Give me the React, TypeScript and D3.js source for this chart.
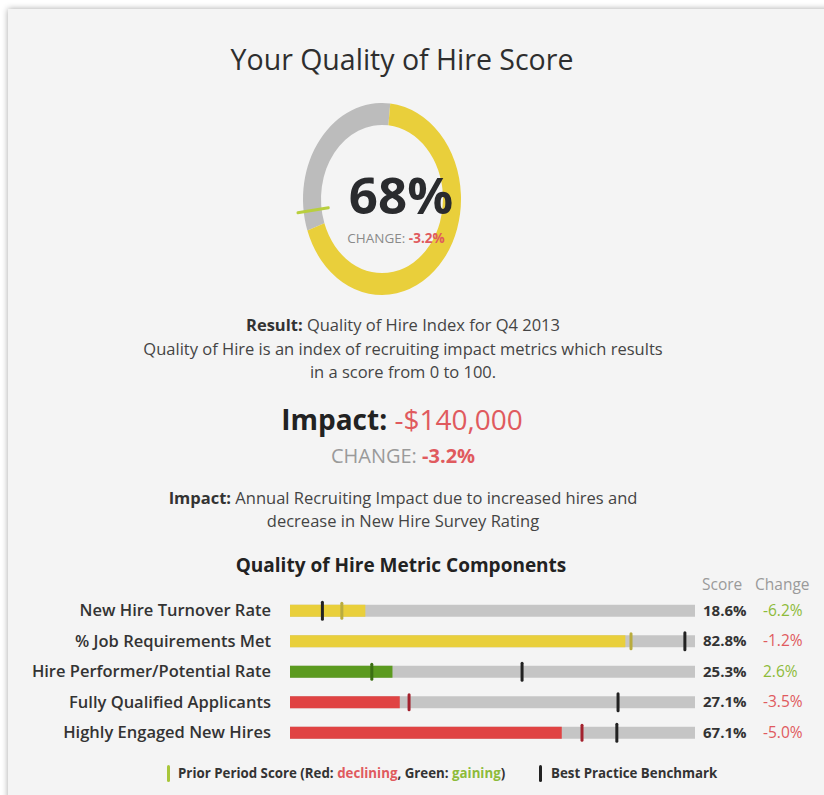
import React from "react";
import * as d3 from "d3";

const categories = [
  "New Hire Turnover Rate",
  "% Job Requirements Met",
  "Hire Performer/Potential Rate",
  "Fully Qualified Applicants",
  "Highly Engaged New Hires",
];
const scores = [18.6, 82.8, 25.3, 27.1, 67.1];
const changes = [-6.2, -1.2, 2.6, -3.5, -5.0];
const priorScores = [12.8, 84.2, 20.2, 29.4, 72.1];
const benchmarks = [8.0, 97.5, 57.3, 81.0, 80.7];
const barStatus = ["neutral", "neutral", "gaining", "declining", "declining"];
const changeStatus = ["gaining", "declining", "gaining", "declining", "declining"];

const overallScore = 68;
const overallPrior = 71.2;
const overallChange = -3.2;
const impactValue = "-$140,000";

const FONT = "'Open Sans', 'Noto Sans', sans-serif";
const YELLOW = "#e9cf3b";
const GREEN = "#5b9a1f";
const RED = "#e04343";
const TRACK = "#c5c5c5";
const RING_GRAY = "#bcbcbc";
const TEXT_RED = "#e05a5e";
const TEXT_GREEN = "#8dbb3a";

const fillColor: Record<string, string> = { neutral: YELLOW, gaining: GREEN, declining: RED };
const priorColor: Record<string, string> = { neutral: "#b9ac3e", gaining: "#3b6f12", declining: "#a3222e" };

export default function App() {
  const W = 824, H = 795;
  const x = d3.scaleLinear().domain([0, 100]).range([290, 695]);
  const y = d3.scaleBand().domain(categories).range([595.5, 748]).padding(0);
  const barH = 12;

  const startDeg = 6;
  const angle = d3.scaleLinear().domain([0, 100]).range([startDeg * Math.PI / 180, (startDeg + 360) * Math.PI / 180]);
  const arc = d3.arc<any>().innerRadius(61).outerRadius(79);
  const yellowArc = arc({ startAngle: angle(0), endAngle: angle(overallScore) } as any) as string;
  const grayArc = arc({ startAngle: angle(overallScore), endAngle: angle(100) } as any) as string;
  const pa = angle(overallPrior);
  const cx = 382, cy = 199, sy = 1.215;

  const fmt = (v: number) => v.toFixed(1) + "%";

  return (
    <svg width={W} height={H} style={{ position: "absolute", left: 0, top: 0, fontFamily: FONT }}>
      <defs>
        <filter id="shadow" x="-5%" y="-5%" width="110%" height="110%">
          <feDropShadow dx="0" dy="0" stdDeviation="3" floodColor="#000" floodOpacity="0.35" />
        </filter>
      </defs>
      <rect x={0} y={0} width={W} height={H} fill="#ffffff" />
      <rect x={8} y={9} width={840} height={820} fill="#f4f4f4" filter="url(#shadow)" />

      <text x={402} y={70} textAnchor="middle" fontSize={28.5} fill="#2e2e2e">Your Quality of Hire Score</text>

      <g transform={`translate(${cx},${cy}) scale(1,${sy})`}>
        <path d={grayArc} fill={RING_GRAY} />
        <path d={yellowArc} fill={YELLOW} />
        <line
          x1={Math.sin(pa) * 54} y1={-Math.cos(pa) * 54}
          x2={Math.sin(pa) * 85} y2={-Math.cos(pa) * 85}
          stroke="#b9cf3e" strokeWidth={2.5} strokeLinecap="round"
        />
      </g>
      <text x={401} y={214} textAnchor="middle" fontSize={51} fontWeight={700} fill="#2a2b2e">{overallScore}%</text>
      <text x={396} y={243} textAnchor="middle" fontSize={13.5} fill="#8a8a8a">
        CHANGE: <tspan fill={TEXT_RED} fontWeight={700}>{fmt(overallChange)}</tspan>
      </text>

      <g fontSize={16.5} fill="#444">
        <text x={403} y={331} textAnchor="middle"><tspan fontWeight={700} fill="#333">Result:</tspan> Quality of Hire Index for Q4 2013</text>
        <text x={403} y={355} textAnchor="middle">Quality of Hire is an index of recruiting impact metrics which results</text>
        <text x={403} y={378} textAnchor="middle">in a score from 0 to 100.</text>
      </g>

      <text x={402} y={430} textAnchor="middle" fontSize={28}>
        <tspan fontWeight={700} fill="#222">Impact:</tspan>
        <tspan fill={TEXT_RED}> {impactValue}</tspan>
      </text>
      <text x={403} y={463} textAnchor="middle" fontSize={20} fill="#9a9a9a">
        CHANGE: <tspan fill={TEXT_RED} fontWeight={700}>{fmt(overallChange)}</tspan>
      </text>

      <g fontSize={16.5} fill="#444">
        <text x={403} y={504} textAnchor="middle"><tspan fontWeight={700} fill="#333">Impact:</tspan> Annual Recruiting Impact due to increased hires and</text>
        <text x={403} y={527} textAnchor="middle">decrease in New Hire Survey Rating</text>
      </g>

      <text x={401} y={572} textAnchor="middle" fontSize={19} fontWeight={700} fill="#222">Quality of Hire Metric Components</text>
      <text x={702} y={590} fontSize={15.5} fill="#9a9a9a">Score</text>
      <text x={755} y={590} fontSize={15.5} fill="#9a9a9a">Change</text>

      {categories.map((c, i) => {
        const yc = (y(c) as number) + y.bandwidth() / 2;
        return (
          <g key={c}>
            <text x={271} y={yc + 5.5} textAnchor="end" fontSize={16.5} fill="#333" fontWeight={600}>{c}</text>
            <rect x={x(0)} y={yc - barH / 2} width={x(100) - x(0)} height={barH} fill={TRACK} />
            <rect x={x(0)} y={yc - barH / 2} width={x(scores[i]) - x(0)} height={barH} fill={fillColor[barStatus[i]]} />
            <rect x={x(priorScores[i]) - 1.5} y={yc - 9} width={3} height={18} rx={1.5} fill={priorColor[barStatus[i]]} />
            <rect x={x(benchmarks[i]) - 1.5} y={yc - 10} width={3} height={20} rx={1.5} fill="#222" />
            <text x={703} y={yc + 5} fontSize={15} fontWeight={700} fill="#333">{scores[i].toFixed(1)}%</text>
            <text x={763} y={yc + 5} fontSize={15.5} fill={changeStatus[i] === "gaining" ? TEXT_GREEN : TEXT_RED}>{fmt(changes[i])}</text>
          </g>
        );
      })}

      <rect x={167} y={765} width={3} height={17} rx={1.5} fill="#a8c63a" />
      <text x={178} y={778} fontSize={13.3} fontWeight={700} fill="#333">
        Prior Period Score (Red: <tspan fill={TEXT_RED}>declining</tspan>, Green: <tspan fill={TEXT_GREEN}>gaining</tspan>)
      </text>
      <rect x={539} y={765} width={3} height={17} rx={1.5} fill="#222" />
      <text x={551} y={778} fontSize={13.3} fontWeight={700} fill="#333">Best Practice Benchmark</text>
    </svg>
  );
}
